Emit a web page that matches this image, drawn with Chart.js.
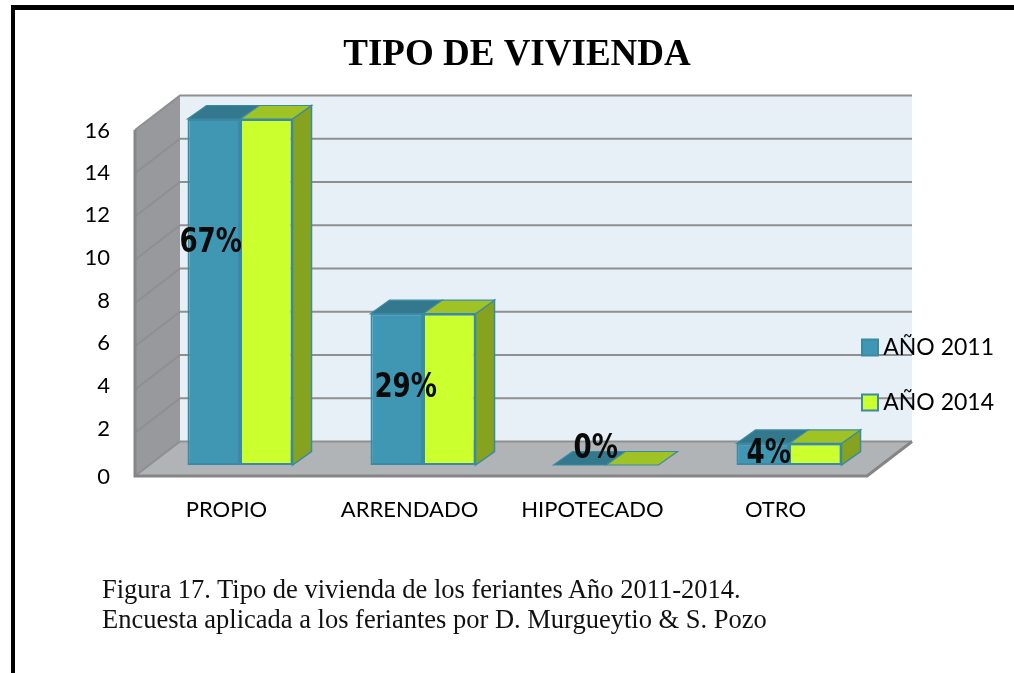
<!DOCTYPE html>
<html><head><meta charset="utf-8">
<style>
html,body{margin:0;padding:0;background:#fff;overflow:hidden}
#frame{position:absolute;left:11px;top:5px;width:1003px;height:668px;border-top:5px solid #000;border-left:4px solid #000;box-sizing:border-box}
#wrap{position:absolute;left:20px;top:0;width:994px;height:673px}
.cap{position:absolute;left:102px;font:26.5px/1 "Liberation Serif",serif;color:#111;white-space:nowrap}
</style>
<script src="https://cdn.jsdelivr.net/npm/chart.js@4"></script>
</head><body>
<div id="frame"></div>
<div id="wrap"><canvas id="c" width="994" height="673"></canvas></div>
<div class="cap" style="top:576px">Figura 17. Tipo de vivienda de los feriantes Año 2011-2014.</div>
<div class="cap" style="top:606px">Encuesta aplicada a los feriantes por D. Murgueytio &amp; S. Pozo</div>
<script>
const titleText = "TIPO DE VIVIENDA";
const categories = ["PROPIO","ARRENDADO","HIPOTECADO","OTRO"];
const seriesNames = ["AÑO 2011","AÑO 2014"];
const values2011 = [16,7,0,1];
const values2014 = [16,7,0,1];
const percentLabels = ["67%","29%","0%","4%"];
const percentNudge = [[-3,124],[9,74],[16,-16],[6,11]];
const tickNudge = {0:1,2:-4,4:-4,6:-3,8:-2.5,10:-2,12:-2,14:0,16:1};

const wallDepth = {x:45,y:-34.5}, barShift = {x:13.5,y:-11}, barDepth = {x:19,y:-13.5};
const colors = {
  front:["#3f97b3","#ccff2e"], top:["#33788c","#9fc224"], side:"#85a31e", edge:"#3a8aa6",
  back:"#e8f0f7", wall:"#97999c", floor:"#b1b4b6", grid:"#8f8f8f", axis:"#858585"
};
function poly(ctx,pts,fill,stroke,lw){
  ctx.beginPath();pts.forEach((p,i)=>i?ctx.lineTo(p[0],p[1]):ctx.moveTo(p[0],p[1]));ctx.closePath();
  if(fill){ctx.fillStyle=fill;ctx.fill();}
  if(stroke){ctx.strokeStyle=stroke;ctx.lineWidth=lw||1;ctx.stroke();}
}
const box3d = {
  id:"box3d",
  afterLayout(chart){
    const l=chart.legend; const p=l.options.labels.padding;
    l.left=842-p; l.right=974; l.top=336-p; l.bottom=660; l.width=l.right-l.left; l.height=l.bottom-l.top;
    l.adjustHitBoxes();
    const t=chart.titleBlock; t.left=0; t.right=chart.width; t.width=chart.width;
  },
  beforeDraw(chart){
    const {ctx,scales:{x,y},chartArea:a}=chart;
    const L=a.left,R=a.right,T=y.getPixelForValue(16),B=y.getPixelForValue(0),dx=wallDepth.x,dy=wallDepth.y;
    y.getLabelItems(a).forEach((it,k)=>{
      if(!it._nudged){it.options.translation[1]+=tickNudge[y.ticks[k].value]||0;it._nudged=true;}
    });
    ctx.save();
    poly(ctx,[[L+dx,T+dy],[R+dx,T+dy],[R+dx,B+dy],[L+dx,B+dy]],colors.back);
    poly(ctx,[[L,T],[L+dx,T+dy],[L+dx,B+dy],[L,B]],colors.wall);
    poly(ctx,[[L,B],[L+dx,B+dy],[R+dx,B+dy],[R,B]],colors.floor);
    ctx.lineWidth=2;ctx.strokeStyle=colors.grid;
    y.ticks.forEach(t=>{
      const p=y.getPixelForValue(t.value);
      ctx.beginPath();ctx.moveTo(L,p);ctx.lineTo(L+dx,p+dy);ctx.lineTo(R+dx,p+dy);ctx.stroke();
    });
    ctx.lineWidth=3;ctx.strokeStyle=colors.axis;
    ctx.beginPath();ctx.moveTo(L,T);ctx.lineTo(L,B);ctx.lineTo(R,B);ctx.lineTo(R+dx,B+dy);ctx.stroke();
    ctx.restore();
  },
  beforeDatasetDraw(chart,args){
    const {ctx}=chart,i=args.index,last=chart.data.datasets.length-1;
    const sx=barShift.x,sy=barShift.y,dx=barDepth.x,dy=barDepth.y;
    ctx.save();
    args.meta.data.forEach(b=>{
      const l=b.x-b.width/2+sx,r=b.x+b.width/2+sx,t=b.y+sy,bt=b.base+sy;
      if(i===last && bt>t) poly(ctx,[[r,t],[r+dx,t+dy],[r+dx,bt+dy],[r,bt]],colors.side,colors.edge,1.5);
      poly(ctx,[[l,t],[l+dx,t+dy],[r+dx,t+dy],[r,t]],colors.top[i],colors.edge,1.2);
    });
    ctx.translate(sx,sy);
  },
  afterDatasetDraw(chart){ chart.ctx.restore(); },
  afterDatasetsDraw(chart){
    const {ctx}=chart,m=chart.getDatasetMeta(0);
    ctx.save();
    ctx.font='bold 30px "DejaVu Sans Condensed","DejaVu Sans",sans-serif';
    ctx.fillStyle="#0a0a0a";ctx.textAlign="center";ctx.textBaseline="middle";
    m.data.forEach((b,k)=>{
      ctx.save();
      ctx.translate(b.x+barShift.x+percentNudge[k][0], b.y+barShift.y+percentNudge[k][1]);
      ctx.scale(0.97,1.15);
      ctx.fillText(percentLabels[k],0,0);
      ctx.restore();
    });
    ctx.restore();
  }
};
new Chart(document.getElementById("c"),{
  type:"bar",
  plugins:[box3d],
  data:{labels:categories,datasets:[
    {label:seriesNames[0],data:values2011,backgroundColor:colors.front[0],borderColor:colors.edge,borderWidth:2,borderSkipped:false,clip:false},
    {label:seriesNames[1],data:values2014,backgroundColor:colors.front[1],borderColor:colors.edge,borderWidth:2,borderSkipped:false,clip:false}
  ]},
  options:{
    responsive:false,animation:false,
    layout:{padding:{left:0,right:147,top:0,bottom:0}},
    datasets:{bar:{categoryPercentage:0.574,barPercentage:1}},
    plugins:{
      title:{display:true,text:titleText,color:"#000",font:{family:'"Liberation Serif",serif',size:37,weight:"bold",lineHeight:1.2},padding:{top:33,bottom:52.6}},
      legend:{display:true,position:"chartArea",align:"start",
        labels:{boxWidth:16,boxHeight:16,padding:32,color:"#000",textAlign:"right",font:{family:'Lato,sans-serif',size:23}}},
      tooltip:{enabled:false}
    },
    scales:{
      x:{grid:{display:false},border:{display:false},afterFit(s){s.height=197;},
        ticks:{color:"#000",padding:13,maxRotation:0,autoSkip:false,font:{family:'Lato,sans-serif',size:22}}},
      y:{min:0,max:16,afterFit(s){s.width=115;},grid:{display:false,drawTicks:false},border:{display:false},
        ticks:{stepSize:2,color:"#000",padding:25,font:{family:'Lato,sans-serif',size:22}}}
    }
  }
});
</script>
</body></html>
